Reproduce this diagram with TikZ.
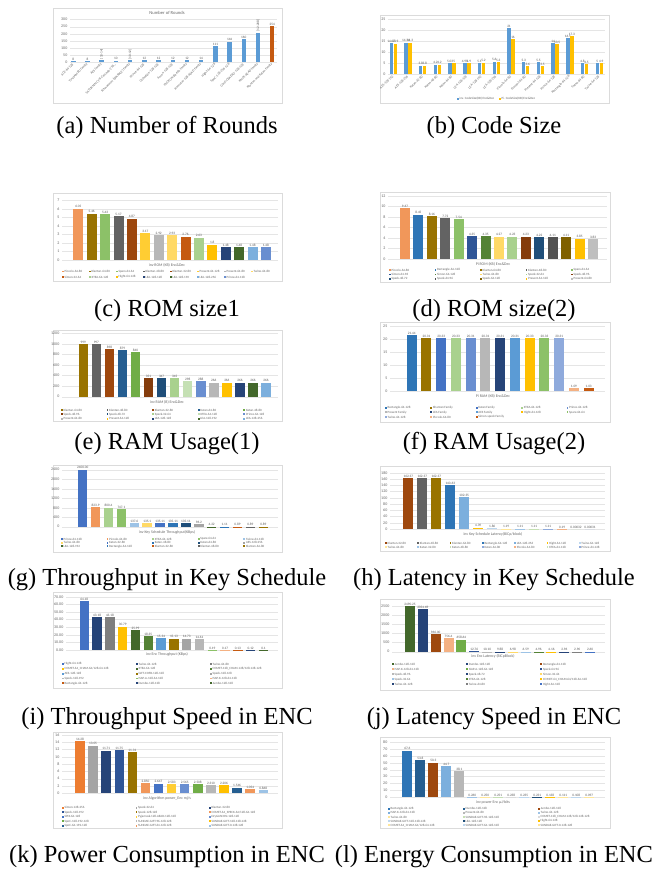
\documentclass[tikz,border=0pt]{standalone}
\usepackage{fontspec}
\setmainfont{Liberation Serif}
\newfontfamily\chartfont{Carlito}
\usepackage{xcolor}
\usepackage{tikz}

\definecolor{cblue}{HTML}{5B9BD5}
\definecolor{corange}{HTML}{ED7D31}
\definecolor{cgold}{HTML}{FFC000}
\definecolor{cgray}{HTML}{A5A5A5}
\definecolor{cdblue}{HTML}{4472C4}
\definecolor{cgreen}{HTML}{70AD47}
\definecolor{cnavy}{HTML}{264478}
\definecolor{cbrown}{HTML}{9E480E}
\definecolor{cdgray}{HTML}{636363}
\definecolor{colive}{HTML}{997300}
\definecolor{csteel}{HTML}{255E91}
\definecolor{cdgreen}{HTML}{43682B}
\definecolor{cpeach}{HTML}{F1975A}
\definecolor{clgray}{HTML}{B7B7B7}
\definecolor{clgold}{HTML}{FFCD33}
\definecolor{cperi}{HTML}{698ED0}
\definecolor{clgreen}{HTML}{8CC168}
\definecolor{csky}{HTML}{7CAFDD}
\definecolor{crust}{HTML}{C55A11}
\definecolor{cmid}{HTML}{2E75B6}
\definecolor{ccobalt}{HTML}{2F5597}
\definecolor{cforest}{HTML}{548235}
\definecolor{csand}{HTML}{FFD966}
\definecolor{cmint}{HTML}{A9D18E}
\definecolor{cmaroon}{HTML}{843C0C}
\definecolor{cink}{HTML}{1F4E79}
\definecolor{ccoal}{HTML}{525252}
\definecolor{cumber}{HTML}{7F6000}
\definecolor{csilver}{HTML}{BFBFBF}
\definecolor{cpale}{HTML}{9DC3E6}
\definecolor{capricot}{HTML}{F4B183}
\definecolor{cice}{HTML}{BDD7EE}
\definecolor{ccream}{HTML}{FFE699}
\definecolor{csage}{HTML}{C5E0B4}
\definecolor{cmist}{HTML}{DBDBDB}
\definecolor{clilac}{HTML}{8FAADC}
\definecolor{cslate}{HTML}{7F7F7F}

% grid lines and tick labels: baseline, tick step, label x, grid end x, labels
\newcommand{\yticks}[5]{%
  \foreach \yl [count=\ii from 0] in {#5}{
    \draw[gridline] ({#3+2},{#1-\ii*#2}) -- (#4,{#1-\ii*#2});
    \node[ticklab] at (#3,{#1-\ii*#2}) {\yl};
  }}
% bars: baseline, first x, step, width, px per unit, value/colour/label
\newcommand{\barset}[6]{%
  \foreach \bv/\bc/\bl [count=\ii from 0] in {#6}{
    \fill[\bc] ({#2+\ii*#3-#4/2},#1) rectangle ({#2+\ii*#3+#4/2},{#1-\bv*#5});
    \node[vallab] at ({#2+\ii*#3},{#1-\bv*#5}) {\bl};
  }}
% legend: x, y, column step, row step, columns, colour/label
\newcommand{\legendset}[6]{%
  \foreach \lgc/\lgt [count=\ii from 0] in {#6}{
    \pgfmathtruncatemacro{\lcol}{mod(\ii,#5)}
    \pgfmathtruncatemacro{\lrow}{(\ii-\lcol)/#5}
    \fill[\lgc] ({#1+\lcol*#3},{#2+\lrow*#4-0.9}) rectangle ++(1.8,1.8);
    \node[leglab] at ({#1+\lcol*#3+2.4},{#2+\lrow*#4}) {\lgt};
  }}

\begin{document}
\begin{tikzpicture}[
  x=1pt,y=-1pt,
  chartframe/.style={draw=black!14,fill=white,line width=0.4pt},
  gridline/.style={draw=black!10,line width=0.3pt},
  ticklab/.style={font=\chartfont\fontsize{4}{4.5}\selectfont,text=black!60,anchor=east,inner sep=0.5pt},
  vallab/.style={font=\chartfont\fontsize{3.4}{4}\selectfont,text=black!65,anchor=south,inner sep=0.6pt},
  leglab/.style={font=\chartfont\fontsize{3.2}{3.6}\selectfont,text=black!60,anchor=west,inner sep=0pt},
  axtitle/.style={font=\chartfont\fontsize{3.9}{4.4}\selectfont,text=black!60},
  xlab/.style={font=\chartfont\fontsize{3.4}{4}\selectfont,text=black!60,anchor=east,rotate=45,inner sep=0.5pt},
  subcap/.style={font=\fontsize{24.5}{29}\selectfont,anchor=base}
]
  \useasboundingbox[fill=white] (0,0) rectangle (657,870);

  % (a) number of rounds
  \draw[chartframe] (53,8) rectangle (282,103);
  \node[axtitle,font=\chartfont\fontsize{4.6}{5}\selectfont] (ttla) at (167,13) {Number of Rounds};
  \yticks{62}{7.065}{68}{277}{0,50,100,150,200,250,300}
  \barset{62}{73.3}{14.21}{4.5}{0.1413}{8/cblue/8, 8/cblue/8, 12/cblue/{}, 10/cblue/10, 11/cblue/{},
    12/cblue/12, 12/cblue/12, 12/cblue/12, 12/cblue/12, 14/cblue/14, 111/cblue/111, 144/cblue/144,
    160/cblue/160, 208/cblue/{}, 254/crust/254}
  \node[vallab,rotate=90,anchor=west] (rnga) at (101.7,59.8) {[10-14]};
  \node[vallab,rotate=90,anchor=west] (rngb) at (130.1,60.1) {[10-12]};
  \node[vallab,rotate=90,anchor=west] (rngc) at (258.0,32.2) {[12-208]};
  \foreach \xl [count=\ii from 0] in {ACE-64-128, TinyJAMBU family, AES family,
    {SATURNIN-CTR-Cascade-256\ldots}, Schwaemm (SPARKLE) family, Prince-64-128, Oribatida-128-128,
    Ascon-128-128, PHOTON-Beetle family, Romulus-128-AEAD family, Hight-64-128, SpoC-128-256-128,
    Gimli-CBAEAD-128-128, KNOT-AEAD family, Ktantan and Katan family}
    \node[xlab] at ({73.3+\ii*14.21},63.5) {\xl};
  \node[subcap] (capa) at (167,133) {(a) Number of Rounds};

  % (b) code size
  \draw[chartframe] (380,15) rectangle (609,103);
  \yticks{74}{10.95}{386}{605}{0,5,10,15,20,25}
  \barset{74}{391.3}{14.71}{3.4}{2.19}{14.07/cblue/14.07, 14.34/cblue/14.34, 3.8/cblue/3.8, 4.2/cblue/4.2,
    5.03/cblue/5.03, 4.95/cblue/4.95, 5.1/cblue/5.1, 5.6/cblue/5.6, 21/cblue/21, 5.3/cblue/5.3,
    5.5/cblue/5.5, 14/cblue/14, 16.5/cblue/16.5, 4.8/cblue/4.8, 5/cblue/5}
  \barset{74}{395.3}{14.71}{3.4}{2.19}{13.9/cgold/13.9, 14.3/cgold/14.3, 3.8/cgold/3.8, 4.2/cgold/4.2,
    5/cgold/5, 4.9/cgold/4.9, 5.2/cgold/5.2, 5.3/cgold/5.3, 16/cgold/16, 3.6/cgold/3.6,
    3.5/cgold/3.5, 13.5/cgold/13.5, 17.3/cgold/17.3, 4.5/cgold/4.5, 4.9/cgold/4.9}
  \foreach \xl [count=\ii from 0] in {AES-128-192, AES-128-256, Katan-32-80, Katan-48-80, Katan-64-80,
    LEA-128-128, LEA-128-192, LEA-128-256, Piccolo-64-80, Present-64-80, Present-64-128,
    Prince-64-128, Rectangle-64-128, Twine-64-80, Twine-64-128}
    \node[xlab] at ({393.3+\ii*14.71},75.5) {\xl};
  \legendset{457}{99}{42}{0}{2}{cblue/inv. CodeSize(KB) Enc\&Dec, cgold/Pi. CodeSize(KB) Enc\&Dec}
  \node[subcap] (capb) at (494,133) {(b) Code Size};

  % (c) ROM size 1
  \draw[chartframe] (53,193) rectangle (282,281);
  \yticks{260}{8.48}{60}{278}{0,...,7}
  \barset{260}{78.3}{13.4}{10}{8.48}{6.05/cpeach/6.05, 5.46/colive/5.46, 5.43/clgreen/5.43,
    5.17/cdgray/5.17, 4.87/cbrown/4.87, 3.17/clgold/3.17, 2.92/clgray/2.92, 2.93/csand/2.93,
    2.76/crust/2.76, 2.63/cmint/2.63, 1.8/cgold/1.8, 1.48/cnavy/1.48, 1.48/cdgreen/1.48,
    1.48/csky/1.48, 1.48/cperi/1.48}
  \node[axtitle] (ttlc) at (167,265.5) {inv ROM (KB) Enc\&Dec};
  \legendset{62}{271.5}{27}{5.5}{8}{cpeach/Piccolo-64-80, colive/Klantan-64-80, clgreen/Sparx-64-64,
    cdgray/Klantan-48-80, cbrown/Klantan-32-80, clgold/Present-64-128, clgray/Present-64-80,
    csand/Twine-64-80, crust/Simon-32-64, cmint/XTEA-64-128, cgold/Hight-64-128, cnavy/LEA-128-128,
    cdgreen/LEA-128-192, csky/LEA-128-256, cperi/Prince-64-128}
  \node[subcap] (capc) at (167,316) {(c) ROM size1};

  % (d) ROM size 2
  \draw[chartframe] (380,192) rectangle (610,282);
  \yticks{259}{10.5}{386}{607}{0,2,...,12}
  \barset{259}{405}{13.43}{10}{5.25}{9.67/cpeach/9.67, 8.45/cmid/8.45, 8.16/colive/8.16,
    7.72/cdgray/7.72, 7.54/clgreen/7.54, 4.35/ccobalt/4.35, 4.35/cforest/4.35, 4.27/csand/4.27,
    4.23/cmint/4.23, 4.23/cmaroon/4.23, 4.22/cink/4.22, 4.11/ccoal/4.11, 4.11/cumber/4.11,
    3.85/cgold/3.85, 3.83/csilver/3.83}
  \node[axtitle] (ttld) at (493,264) {Pi ROM (KB) Enc\&Dec};
  \legendset{389}{270}{45.5}{4.4}{5}{cpeach/Piccolo-64-80, cmid/Rectangle-64-128, colive/Klantan-64-80,
    cdgray/Klantan-48-80, clgreen/Sparx-64-64, ccobalt/Simon-64-96, cforest/Simon-64-128,
    csand/Twine-64-80, cmint/Speck-32-64, cmaroon/Speck-48-96, cink/Speck-48-72, ccoal/Speck-64-96,
    cumber/Speck-64-128, cgold/Present-64-128, csilver/Present-64-80}
  \node[subcap] (capd) at (494,316) {(d) ROM size(2)};

  % (e) RAM usage 1
  \draw[chartframe] (53,330) rectangle (282,421);
  \yticks{396.7}{10.56}{60}{278}{0,200,400,600,800,1000,1200}
  \barset{396.7}{83.3}{13.05}{9.5}{0.0528}{999/colive/999, 997/cdgray/997, 898/cbrown/898,
    879/csteel/879, 840/cgreen/840, 351/cmaroon/351, 347/cink/347, 345/cmint/345, 298/csage/298,
    288/cperi/288, 266/clgray/266, 266/cgold/266, 266/cnavy/266, 266/cdgreen/266, 266/csky/266}
  \node[axtitle] (ttle) at (167,402.3) {inv RAM (B) Enc\&Dec};
  \legendset{61}{410}{45.6}{4.35}{5}{colive/Klantan-64-80, cdgray/Klantan-48-80, cbrown/Klantan-32-80,
    csteel/Katan-64-80, cgreen/Katan-48-80, cmaroon/Speck-48-96, cink/Speck-48-72, cmint/Speck-32-64,
    csage/XTEA-64-128, cperi/Prince-64-128, clgray/Present-64-80, cgold/Present-64-128,
    cnavy/LEA-128-128, cdgreen/LEA-128-192, csky/LEA-128-256}
  \node[subcap] (cape) at (167,449) {(e) RAM Usage(1)};

  % (f) RAM usage 2
  \draw[chartframe] (380,322) rectangle (610,422);
  \yticks{391}{13}{388}{605}{0,5,...,25}
  \barset{391}{411.7}{14.75}{10}{2.6}{21.44/cmid/21.44, 20.31/colive/20.31, 20.33/cdblue/20.33,
    20.33/cmint/20.33, 20.31/cperi/20.31, 20.31/clgray/20.31, 20.31/cnavy/20.31, 20.31/cblue/20.31,
    20.33/cgold/20.33, 20.33/clgreen/20.33, 20.31/clilac/20.31, 1.09/capricot/1.09, 1.03/crust/1.03}
  \node[axtitle] (ttlf) at (493,396.7) {Pi RAM (KB) Enc\&Dec};
  \legendset{385}{407.7}{45.4}{4.65}{5}{cmid/Rectangle-64-128, colive/Khantan Family, cdblue/Katan Family,
    cmint/XTEA-64-128, cperi/Prince-64-128, clgray/Present Family, cnavy/LEA Family, cblue/AES Family,
    cgold/Hight-64-128, clgreen/Sparx-64-64, clilac/Twine-64-128, capricot/Piccolo-64-80,
    crust/Simon-speck Family}
  \node[subcap] (capf) at (494,449) {(f) RAM Usage(2)};

  % (g) throughput in key schedule
  \draw[chartframe] (53,465) rectangle (282,551.7);
  \yticks{526.7}{9.5}{60}{278}{0,400,...,2400}
  \barset{526.7}{82.7}{12.9}{9.5}{0.02375}{2400/cdblue/2400.00, 823.9/cpeach/823.9, 800.4/cmint/800.4,
    747.1/clgreen/747.1, 137.6/cpale/137.6, 135.1/csand/135.1, 135.11/cdblue/135.11,
    135.11/cmid/135.11, 135.11/cink/135.11, 96.2/cgray/96.2, 4.22/cdgreen/4.22, 1.11/cmid/1.11,
    0.89/crust/0.89, 0.89/cdgray/0.89, 0.89/colive/0.89}
  \node[axtitle] (ttlg) at (167,532.7) {inv Key Schedule Throughput(KBps)};
  \legendset{61}{539}{45.6}{3.65}{5}{cdblue/Prince-64-128, cpeach/Piccolo-64-80, cmint/XTEA-64-128,
    clgreen/Sparx-64-64, cpale/Twine-64-128, csand/Twine-64-80, cdblue/Katan-32-80, cmid/Katan-48-80,
    cink/Katan-64-80, cgray/AES-128-256, cdgreen/LEA-128-192, cmid/Rectangle-64-128,
    crust/Klantan-32-80, cdgray/Klantan-48-80, colive/Klantan-64-80}
  \node[subcap] (capg) at (167,585) {(g) Throughput in Key Schedule};

  % (h) latency in key schedule
  \draw[chartframe] (380,466) rectangle (610,550.7);
  \yticks{529}{6.25}{388}{605}{0,20,...,180}
  \barset{529}{408.3}{13.98}{10}{0.3125}{162.37/cbrown/162.37, 162.37/cdgray/162.37,
    162.37/colive/162.37, 140.63/cmid/140.63, 102.35/csky/102.35, 4.39/cgold/4.39, 1.86/cice/1.86,
    1.19/ccream/1.19, 1.11/cpale/1.11, 1.11/csage/1.11, 1.11/clilac/1.11, 0.19/capricot/0.19,
    0.00032/csage/0.00032, 0.00031/clilac/0.00031}
  \node[axtitle] (ttlh) at (493,534.3) {inv Key Schedule Latency(BiCp/block)};
  \legendset{385}{543.3}{32.3}{3.7}{7}{cbrown/Klantan-32-80, cdgray/Klantan-48-80, colive/Klantan-64-80,
    cmid/Rectangle-64-128, csky/LEA-128-256, cgold/Hight-64-128, cice/Twine-64-128, ccream/Twine-64-80,
    cpale/Katan-32-80, csage/Katan-48-80, clilac/Katan-64-80, capricot/Piccolo-64-80,
    csage/XTEA-64-128, clilac/Prince-64-128}
  \node[subcap] (caph) at (494,585) {(h) Latency in Key Schedule};

  % (i) throughput speed in ENC
  \draw[chartframe] (53,592) rectangle (282,688.3);
  \yticks{650}{7.6}{64}{278}{0.00,10.00,20.00,30.00,40.00,50.00,60.00,70.00}
  \barset{650}{84.3}{12.8}{9.5}{0.76}{64.18/cdblue/64.18, 43.18/cnavy/43.18, 43.18/cslate/43.18,
    30.79/cgold/30.79, 25.99/cdgreen/25.99, 18.35/cforest/18.35, 15.34/cblue/15.34,
    15.13/colive/15.13, 14.73/cgray/14.73, 14.61/clgray/14.61, 0.19/clgreen/0.19,
    0.17/capricot/0.17, 0.13/crust/0.13, 0.12/cnavy/0.12, 0.1/cdgreen/0.1}
  \node[axtitle] (ttli) at (167,654.3) {inv Enc Throughput (KBps)};
  \legendset{62}{664}{74}{4.8}{3}{cdblue/Hight-64-128, cnavy/Twine-64-128, cslate/Twine-64-80,
    cgold/{COMET-64\_CHAM-64/128-64-128}, cdgreen/XTEA-64-128, cforest/{COMET-128\_CHAM-128/128-128-128},
    cblue/AES-128-128, colive/GIFT-COFB-128-128, cgray/Speck-128-128, clgray/Speck-128-192,
    clgreen/ISAP-A-128-64-128, capricot/ISAP-K-128-64-128, crust/Rectangle-64-128,
    cnavy/Dumbo-128-128, cdgreen/Jumbo-128-128}
  \node[subcap] (capi) at (167,724) {(i) Throughput Speed in ENC};

  % (j) latency speed in ENC
  \draw[chartframe] (380,599) rectangle (610,690);
  \yticks{651.7}{9.1}{390}{605}{0,500,1000,1500,2000,2500}
  \barset{651.7}{410}{12.86}{10}{0.0182}{2490.25/cdgreen/2490.25, 2354.69/cnavy/2354.69,
    966/cbrown/966.00, 756.4/capricot/756.4, 658.64/cgreen/658.64, 12.76/ccobalt/12.76,
    10.10/clgray/10.10, 9.88/cnavy/9.88, 6.98/csand/6.98, 6.59/cpale/6.59, 4.96/cforest/4.96,
    4.16/cgold/4.16, 2.96/cnavy/2.96, 2.96/cslate/2.96, 2.60/cdblue/2.60}
  \node[axtitle] (ttlj) at (493,656.7) {inv Enc Latency (BiCpBlock)};
  \legendset{392}{664.3}{74.2}{5}{3}{cdgreen/Jumbo-128-128, cnavy/Dumbo-128-128, cbrown/Rectangle-64-128,
    capricot/ISAP-K-128-64-128, cgreen/ISAP-A-128-64-128, ccobalt/Speck-64-96, clgray/Speck-48-96,
    cnavy/Speck-48-72, csand/Simon-32-64, cpale/Speck-32-64, cforest/XTEA-64-128,
    cgold/{COMET-64\_CHAM-64/128-64-128}, cnavy/Twine-64-128, cslate/Twine-64-80, cdblue/Hight-64-128}
  \node[subcap] (capj) at (494,724) {(j) Latency Speed in ENC};

  % (k) power consumption in ENC
  \draw[chartframe] (53,732) rectangle (282,828.3);
  \yticks{793.3}{7.3}{60}{278}{0,2,...,16}
  \barset{793.3}{80}{13.09}{9.5}{3.65}{14.28/corange/14.28, 13.05/cgray/13.05, 11.71/cnavy/11.71,
    11.75/ccobalt/11.75, 11.31/colive/11.31, 2.850/cpeach/2.850, 2.647/cdblue/2.647,
    2.583/clgold/2.583, 2.565/cperi/2.565, 2.508/cgreen/2.508, 2.310/clgray/2.310,
    2.206/cgold/2.206, 1.546/csteel/1.546, 1.054/cpeach/1.054, 0.868/cpale/0.868}
  \node[axtitle] (ttlk) at (167,798.7) {inv Algorithm power\_Enc mj/s};
  \legendset{62}{807.7}{73.5}{4.5}{3}{corange/Simon-128-256, cgray/Speck-32-64, cnavy/Klantan-32-80,
    ccobalt/Speck-128-192, colive/Speck-128-128, cpeach/{COMET-64\_SPECK-64/128-64-128},
    cdblue/SPIX-64-128, clgold/Pyjamask-128-AEAD-128-128, cperi/DryGASCON-128-128,
    cgreen/SpoC-128-192-128, clgray/SUNDAE-GIFT-96-128-128, cgold/SUNDAE-GIFT-128-128-128,
    csteel/SpoC-64-192-128, cpeach/SUNDAE-GIFT-64-128-128, cpale/SUNDAE-GIFT-0-128-128}
  \node[subcap] (capk) at (167,862) {(k) Power Consumption in ENC};

  % (l) energy consumption in ENC
  \draw[chartframe] (380,737) rectangle (610,828.3);
  \yticks{797.3}{6.9}{388}{605}{0,10,...,80}
  \barset{797.3}{407.3}{13}{10}{0.69}{67.6/cmid/67.6, 53.8/csteel/53.8, 50.3/cbrown/50.3,
    44.7/csky/44.7, 38.1/clgray/38.1, 0.260/cpale/0.260, 0.250/ccream/0.250, 0.251/csage/0.251,
    0.238/cmist/0.238, 0.235/cice/0.235, 0.231/cink/0.231, 0.138/cgold/0.138, 0.111/ccream/0.111,
    0.108/cice/0.108, 0.097/ccream/0.097}
  \node[axtitle] (ttll) at (493,802.3) {inv power Enc µJ/bits};
  \legendset{388}{808.7}{75}{4.15}{3}{cmid/Rectangle-64-128, csteel/Dumbo-128-128, cbrown/Jumbo-128-128,
    csky/ISAP-K-128-64-128, clgray/Present-64-80, cpale/Twine-64-128, ccream/Twine-64-80,
    csage/SUNDAE-GIFT-96-128-128, cmist/{COMET-128\_CHAM-128/128-128-128},
    cice/SUNDAE-GIFT-128-128-128, cink/LEA-128-128, cgold/Hight-64-128,
    ccream/{COMET-64\_CHAM-64/128-64-128}, cice/SUNDAE-GIFT-64-128-128, ccream/SUNDAE-GIFT-0-128-128}
  \node[subcap] (capl) at (494,862) {(l) Energy Consumption in ENC};
\end{tikzpicture}
\end{document}
